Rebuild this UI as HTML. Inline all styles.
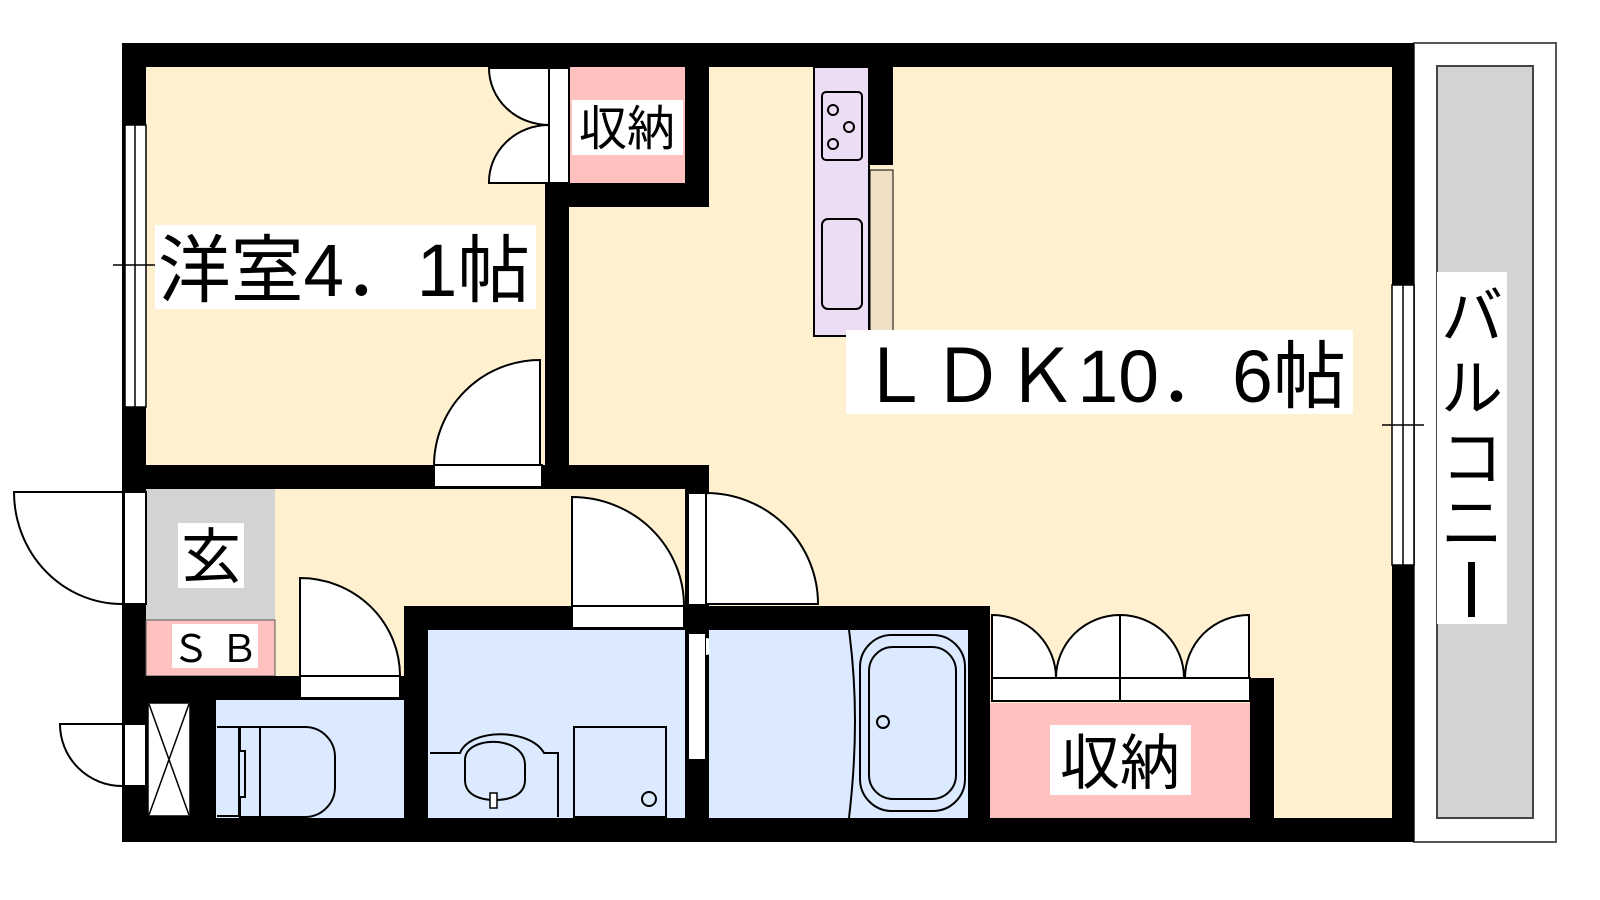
<!DOCTYPE html>
<html><head><meta charset="utf-8"><style>
html,body{margin:0;padding:0;background:#fff;}
svg{display:block;}
text{font-family:"Liberation Sans","Noto Sans CJK JP",sans-serif;fill:#000;}
</style></head><body>
<svg width="1600" height="900" viewBox="0 0 1600 900" xmlns="http://www.w3.org/2000/svg">
<rect width="1600" height="900" fill="#fff"/>
<!-- balcony -->
<rect x="1414" y="43" width="142" height="799" fill="#fff" stroke="#555" stroke-width="2"/>
<rect x="1437" y="66" width="96" height="752" fill="#d3d3d3" stroke="#444" stroke-width="2"/>
<rect x="1437" y="272" width="70" height="352" fill="#fff"/>
<text x="1472" y="338" font-size="62" text-anchor="middle">バ</text>
<text x="1472" y="410" font-size="62" text-anchor="middle">ル</text>
<text x="1472" y="480" font-size="62" text-anchor="middle">コ</text>
<text x="1472" y="545" font-size="62" text-anchor="middle">ニ</text>
<rect x="1468" y="562" width="7" height="55" fill="#000"/>
<!-- outer walls -->
<rect x="122" y="43" width="1292" height="799" fill="#000"/>
<!-- bedroom -->
<rect x="146" y="67" width="399" height="398" fill="#fff1d0"/>
<!-- LDK -->
<rect x="569" y="67" width="823" height="751" fill="#fff1d0"/>
<rect x="545" y="67" width="24" height="115" fill="#fff1d0"/>
<!-- top storage -->
<rect x="569" y="67" width="116" height="116" fill="#ffc0c0"/>
<rect x="685" y="67" width="24" height="140" fill="#000"/>
<rect x="545" y="183" width="164" height="24" fill="#000"/>
<rect x="545" y="183" width="24" height="306" fill="#000"/>
<rect x="572" y="100" width="111" height="55" fill="#fff"/>
<text x="627" y="145" font-size="48" text-anchor="middle">収納</text>
<!-- storage double doors -->
<rect x="549" y="68" width="20" height="115" fill="#fff" stroke="#000" stroke-width="2"/>
<path d="M549 125 A60 57 0 0 1 489 68 L549 68 Z" fill="#fff" stroke="#000" stroke-width="2"/>
<path d="M549 125 A60 57 0 0 0 489 183 L549 183 Z" fill="#fff" stroke="#000" stroke-width="2"/>
<!-- horizontal wall bedroom/hall -->
<rect x="122" y="465" width="587" height="24" fill="#000"/>
<!-- bedroom door -->
<rect x="434" y="465" width="108" height="22" fill="#fff" stroke="#000" stroke-width="2"/>
<path d="M540 465 L540 360 A106 106 0 0 0 434 465 Z" fill="#fff" stroke="#000" stroke-width="2"/>
<!-- hall -->
<rect x="275" y="489" width="410" height="187" fill="#fff1d0"/>
<rect x="275" y="489" width="135" height="211" fill="#fff1d0"/>
<!-- genkan -->
<rect x="146" y="489" width="129" height="131" fill="#d3d3d3"/>
<rect x="146" y="620" width="129" height="56" fill="#ffc0c0" stroke="#555" stroke-width="1"/>
<rect x="178" y="523" width="66" height="65" fill="#fff"/>
<text x="211" y="578" font-size="60" text-anchor="middle">玄</text>
<rect x="172" y="624" width="86" height="44" fill="#fff"/>
<text x="215" y="662" font-size="38" text-anchor="middle">Ｓ Ｂ</text>
<!-- entrance door -->
<rect x="124" y="492" width="22" height="112" fill="#fff" stroke="#000" stroke-width="2"/>
<path d="M122 492 L14 492 A108 112 0 0 0 122 604" fill="#fff" stroke="#000" stroke-width="2"/>
<!-- walls around toilet -->
<rect x="122" y="676" width="300" height="24" fill="#000"/>
<rect x="404" y="606" width="24" height="236" fill="#000"/>
<rect x="404" y="606" width="586" height="24" fill="#000"/>
<!-- toilet -->
<rect x="216" y="700" width="188" height="118" fill="#dbeafe"/>
<rect x="148" y="703" width="42" height="113" fill="#fff" stroke="#000" stroke-width="1.5"/>
<path d="M149 704 L189 815 M189 704 L149 815" stroke="#000" stroke-width="1.5"/>
<path d="M217 727 h22 v89 h-22 M240 727 h20 v90 h-20 v-20 h5 v-46 h-5 z M260 727 h45 a30 30 0 0 1 30 30 v30 a30 30 0 0 1 -30 30 h-45" fill="none" stroke="#000" stroke-width="2"/>
<!-- small left door -->
<rect x="124" y="724" width="22" height="62" fill="#fff" stroke="#000" stroke-width="2"/>
<path d="M122 724 L60 724 A62 62 0 0 0 122 786" fill="#fff" stroke="#000" stroke-width="2"/>
<!-- toilet door -->
<rect x="300" y="676" width="100" height="22" fill="#fff" stroke="#000" stroke-width="2"/>
<path d="M300 676 L300 578 A100 98 0 0 1 400 676 Z" fill="#fff" stroke="#000" stroke-width="2"/>
<!-- washroom -->
<rect x="428" y="630" width="257" height="188" fill="#dbeafe"/>
<rect x="574" y="727" width="92" height="90" fill="#dbeafe" stroke="#000" stroke-width="2"/>
<circle cx="649" cy="799" r="7" fill="none" stroke="#000" stroke-width="2"/>
<path d="M430 753 h30 c10 -25 70 -25 84 0 h14 v64" fill="none" stroke="#000" stroke-width="2"/>
<path d="M465 760 c0 -25 60 -25 60 5 v15 c0 15 -15 20 -30 20 c-15 0 -30 -5 -30 -20 z" fill="none" stroke="#000" stroke-width="2"/>
<rect x="490" y="793" width="7" height="15" fill="#fff" stroke="#000" stroke-width="1.5"/>
<!-- wash door -->
<rect x="572" y="606" width="112" height="22" fill="#fff" stroke="#000" stroke-width="2"/>
<path d="M572 606 L572 497 A112 109 0 0 1 684 606 Z" fill="#fff" stroke="#000" stroke-width="2"/>
<!-- hall-LDK door -->
<rect x="685" y="489" width="24" height="117" fill="#000"/>
<rect x="688" y="493" width="18" height="112" fill="#fff" stroke="#000" stroke-width="2"/>
<path d="M706 493 A112 111 0 0 1 818 604 L706 604 Z" fill="#fff" stroke="#000" stroke-width="2"/>
<!-- bath separator -->
<rect x="685" y="630" width="24" height="188" fill="#000"/>
<rect x="688" y="633" width="18" height="127" fill="#fff" stroke="#000" stroke-width="2"/>
<path d="M706 637 L772 645 L706 656" fill="#fff" stroke="#000" stroke-width="2"/>
<!-- bath -->
<rect x="709" y="630" width="259" height="188" fill="#dbeafe"/>
<path d="M849 630 c8 60 8 120 0 188" fill="none" stroke="#000" stroke-width="2"/>
<rect x="860" y="635" width="105" height="176" rx="32" fill="none" stroke="#000" stroke-width="2"/>
<rect x="869" y="647" width="87" height="152" rx="24" fill="none" stroke="#000" stroke-width="2"/>
<circle cx="883" cy="722" r="6" fill="none" stroke="#000" stroke-width="2"/>
<rect x="968" y="606" width="22" height="236" fill="#000"/>
<!-- bottom-right storage -->
<rect x="990" y="703" width="260" height="115" fill="#ffc0c0"/>
<rect x="1250" y="678" width="24" height="164" fill="#000"/>
<rect x="992" y="678" width="258" height="23" fill="#fff" stroke="#000" stroke-width="2"/>
<line x1="1120" y1="615" x2="1120" y2="701" stroke="#000" stroke-width="2"/>
<path d="M992 678 L992 615 A64 63 0 0 1 1056 678 Z" fill="#fff" stroke="#000" stroke-width="2"/>
<path d="M1120 678 L1120 615 A64 63 0 0 0 1056 678 Z" fill="#fff" stroke="#000" stroke-width="2"/>
<path d="M1120 678 L1120 615 A64 63 0 0 1 1184 678 Z" fill="#fff" stroke="#000" stroke-width="2"/>
<path d="M1249 678 L1249 615 A64 63 0 0 0 1185 678 Z" fill="#fff" stroke="#000" stroke-width="2"/>
<rect x="1050" y="725" width="141" height="70" fill="#fff"/>
<text x="1120" y="784" font-size="60" text-anchor="middle">収納</text>
<!-- kitchen -->
<rect x="814" y="67" width="55" height="269" fill="#ecdcf4" stroke="#000" stroke-width="2"/>
<rect x="868" y="67" width="25" height="98" fill="#000"/>
<rect x="870" y="170" width="23" height="166" fill="#efdfc5" stroke="#000" stroke-width="1"/>
<rect x="822" y="92" width="40" height="68" rx="4" fill="none" stroke="#000" stroke-width="2"/>
<circle cx="833" cy="110" r="5" fill="none" stroke="#000" stroke-width="2"/>
<circle cx="849" cy="127" r="5" fill="none" stroke="#000" stroke-width="2"/>
<circle cx="833" cy="144" r="5" fill="none" stroke="#000" stroke-width="2"/>
<rect x="822" y="219" width="40" height="90" rx="6" fill="none" stroke="#000" stroke-width="2"/>
<!-- windows -->
<rect x="125" y="125" width="21" height="282" fill="#fff" stroke="#000" stroke-width="1.5"/>
<line x1="135" y1="125" x2="135" y2="407" stroke="#000" stroke-width="1.5"/>
<line x1="113" y1="265" x2="155" y2="265" stroke="#000" stroke-width="1.5"/>
<rect x="1392" y="285" width="22" height="280" fill="#fff" stroke="#000" stroke-width="1.5"/>
<line x1="1403" y1="285" x2="1403" y2="565" stroke="#000" stroke-width="1.5"/>
<line x1="1382" y1="425" x2="1424" y2="425" stroke="#000" stroke-width="1.5"/>
<!-- room labels -->
<rect x="155" y="225" width="381" height="84" fill="#fff"/>
<text x="158" y="296" font-size="74" textLength="372" lengthAdjust="spacingAndGlyphs">洋室4．1帖</text>
<rect x="846" y="330" width="507" height="84" fill="#fff"/>
<text x="858" y="402" font-size="74" textLength="488" lengthAdjust="spacingAndGlyphs">ＬＤＫ10．6帖</text>
</svg>
</body></html>
